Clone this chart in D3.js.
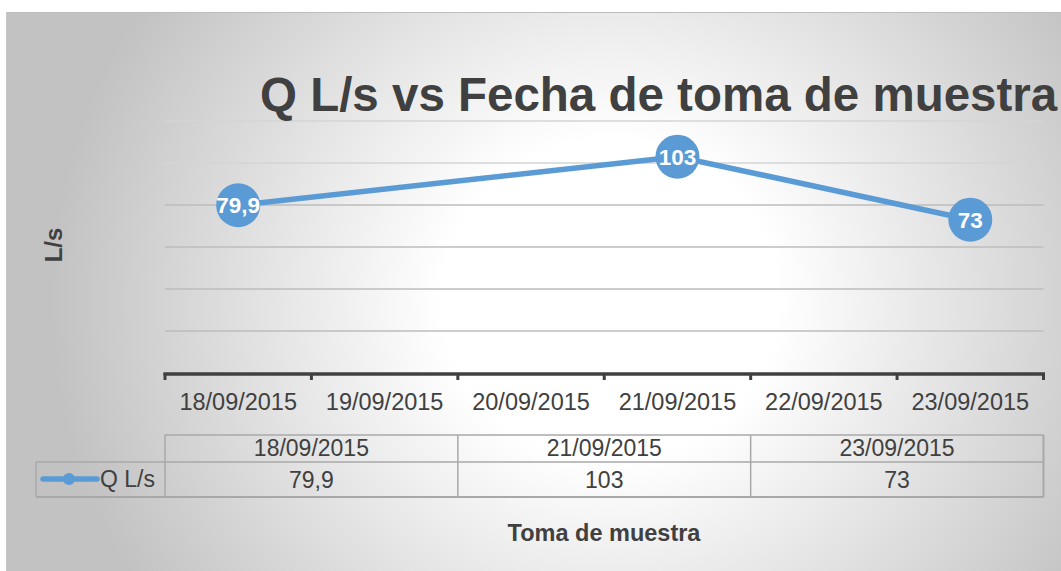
<!DOCTYPE html>
<html>
<head>
<meta charset="utf-8">
<script src="https://cdn.jsdelivr.net/npm/d3@7"></script>
<style>
  html, body { margin: 0; padding: 0; background: #ffffff; }
  svg { display: block; font-family: "Liberation Sans", Arial, sans-serif; }
</style>
</head>
<body>
<svg id="chart" width="1061" height="571"></svg>
<script>
// ---- data ----
const axisDates = ["18/09/2015", "19/09/2015", "20/09/2015", "21/09/2015", "22/09/2015", "23/09/2015"];
const sampleDates = ["18/09/2015", "21/09/2015", "23/09/2015"];
const flowValues = [79.9, 103, 73];
const seriesName = "Q L/s";
const yTicks = [0, 20, 40, 60, 80, 100, 120];
const titleText = "Q L/s vs Fecha de toma de muestra";
const yTitle = "L/s";
const xTitle = "Toma de muestra";

const points = sampleDates.map((d, i) => ({ date: d, value: flowValues[i] }));
const locale = d3.formatLocale({ decimal: ",", thousands: ".", grouping: [3], currency: ["", ""] });
const fmt = v => locale.format(",")(v);

const W = 1061, H = 571;
const svg = d3.select("#chart");
const defs = svg.append("defs");

const grad = defs.append("radialGradient")
  .attr("id", "bg").attr("gradientUnits", "userSpaceOnUse")
  .attr("cx", 610).attr("cy", 300).attr("r", 560)
  .attr("gradientTransform", "translate(610,300) scale(1,0.95) translate(-610,-300)");
grad.append("stop").attr("offset", 0).attr("stop-color", "#ffffff");
grad.append("stop").attr("offset", 0.3).attr("stop-color", "#ffffff");
grad.append("stop").attr("offset", 1).attr("stop-color", "#c2c2c2");

// chart area background
svg.append("rect").attr("x", 6).attr("y", 12).attr("width", W).attr("height", H)
  .attr("fill", "url(#bg)");
svg.append("line").attr("x1", 6).attr("x2", W).attr("y1", 12.5).attr("y2", 12.5)
  .attr("stroke", "#bdbdbd").attr("stroke-width", 1);
svg.append("line").attr("x1", 6.5).attr("x2", 6.5).attr("y1", 12).attr("y2", H)
  .attr("stroke", "#c8c8c8").attr("stroke-width", 1);

// scales
const plotLeft = 165, plotRight = 1043.5, plotTop = 121, plotBottom = 373;
const x = d3.scaleBand().domain(axisDates).range([plotLeft, plotRight]).padding(0);
const y = d3.scaleLinear().domain([0, 120]).range([plotBottom, plotTop]);
const xTable = d3.scaleBand().domain(sampleDates).range([plotLeft, plotRight]).padding(0);

// gridlines
svg.append("g").selectAll("line").data(yTicks.filter(t => t > 0)).join("line")
  .attr("x1", plotLeft).attr("x2", plotRight)
  .attr("y1", d => y(d)).attr("y2", d => y(d))
  .attr("stroke", d => d >= 100 ? "#d4d4d4" : "#bdbdbd").attr("stroke-width", 1.5);

// title
svg.append("text").attr("x", 260).attr("y", 111)
  .attr("font-size", 47.5).attr("font-weight", "bold").attr("fill", "#404040")
  .text(titleText);

// x axis
const xAxis = d3.axisBottom(x).tickSize(0).tickFormat(d => d);
const gx = svg.append("g").attr("transform", `translate(0,${plotBottom + 1})`).call(xAxis);
gx.select(".domain").remove();
gx.selectAll("text").attr("font-size", 23.5).attr("fill", "#404040")
  .attr("font-family", "Liberation Sans, Arial, sans-serif").attr("dy", 0).attr("y", 36);
svg.append("line").attr("x1", plotLeft - 1.5).attr("x2", plotRight + 1.5)
  .attr("y1", plotBottom + 1).attr("y2", plotBottom + 1)
  .attr("stroke", "#404040").attr("stroke-width", 3.5);
const bounds = axisDates.map(d => x(d)).concat([x(axisDates[axisDates.length - 1]) + x.bandwidth()]);
svg.append("g").selectAll("line").data(bounds).join("line")
  .attr("x1", d => d).attr("x2", d => d)
  .attr("y1", plotBottom).attr("y2", plotBottom + 7)
  .attr("stroke", "#404040").attr("stroke-width", 3);

// y title
svg.append("text").attr("transform", "translate(62,245) rotate(-90)")
  .attr("text-anchor", "middle").attr("font-size", 24).attr("font-weight", "bold")
  .attr("fill", "#404040").text(yTitle);

// x title
svg.append("text").attr("x", 604).attr("y", 541).attr("text-anchor", "middle")
  .attr("font-size", 23.5).attr("font-weight", "bold").attr("fill", "#404040").text(xTitle);

// data table
const rowTop = 435, rowMid = 462, rowBot = 497, legLeft = 36;
const tg = svg.append("g");
const tStroke = "#a8a8a8";
tg.append("line").attr("x1", plotLeft).attr("x2", plotRight).attr("y1", rowTop).attr("y2", rowTop)
  .attr("stroke", tStroke).attr("stroke-width", 1.5);
tg.append("line").attr("x1", legLeft).attr("x2", plotRight).attr("y1", rowMid).attr("y2", rowMid)
  .attr("stroke", tStroke).attr("stroke-width", 1.5);
tg.append("line").attr("x1", legLeft).attr("x2", plotRight).attr("y1", rowBot).attr("y2", rowBot)
  .attr("stroke", tStroke).attr("stroke-width", 2);
tg.append("line").attr("x1", legLeft).attr("x2", legLeft).attr("y1", rowMid).attr("y2", rowBot)
  .attr("stroke", tStroke).attr("stroke-width", 1.5);
const colBounds = sampleDates.map(d => xTable(d)).concat([plotRight]);
tg.selectAll("line.col").data(colBounds).join("line").attr("class", "col")
  .attr("x1", d => d).attr("x2", d => d).attr("y1", rowTop).attr("y2", rowBot)
  .attr("stroke", tStroke).attr("stroke-width", (d, i) => i === colBounds.length - 1 ? 2 : 1.5);
tg.selectAll("text.hdr").data(sampleDates).join("text").attr("class", "hdr")
  .attr("x", d => xTable(d) + xTable.bandwidth() / 2).attr("y", 456)
  .attr("text-anchor", "middle").attr("font-size", 23).attr("fill", "#404040").text(d => d);
tg.selectAll("text.val").data(points).join("text").attr("class", "val")
  .attr("x", d => xTable(d.date) + xTable.bandwidth() / 2).attr("y", 488)
  .attr("text-anchor", "middle").attr("font-size", 23).attr("fill", "#404040").text(d => fmt(d.value));
// legend key
tg.append("line").attr("x1", 43).attr("x2", 97).attr("y1", 479).attr("y2", 479)
  .attr("stroke", "#5b9bd5").attr("stroke-width", 5.5).attr("stroke-linecap", "round");
tg.append("circle").attr("cx", 69).attr("cy", 479).attr("r", 6).attr("fill", "#5b9bd5");
tg.append("text").attr("x", 100).attr("y", 487).attr("font-size", 23).attr("fill", "#404040").text(seriesName);

// series line
const cx = d => x(d.date) + x.bandwidth() / 2;
svg.append("path").datum(points)
  .attr("d", d3.line().x(cx).y(d => y(d.value)))
  .attr("fill", "none").attr("stroke", "#5b9bd5").attr("stroke-width", 5.5);
svg.append("g").selectAll("circle").data(points).join("circle")
  .attr("cx", cx).attr("cy", d => y(d.value)).attr("r", 22).attr("fill", "#5b9bd5");
svg.append("g").selectAll("text").data(points).join("text")
  .attr("x", cx).attr("y", d => y(d.value) + 8).attr("text-anchor", "middle")
  .attr("font-size", 22.5).attr("font-weight", "bold").attr("fill", "#ffffff").text(d => fmt(d.value));
</script>
</body>
</html>
